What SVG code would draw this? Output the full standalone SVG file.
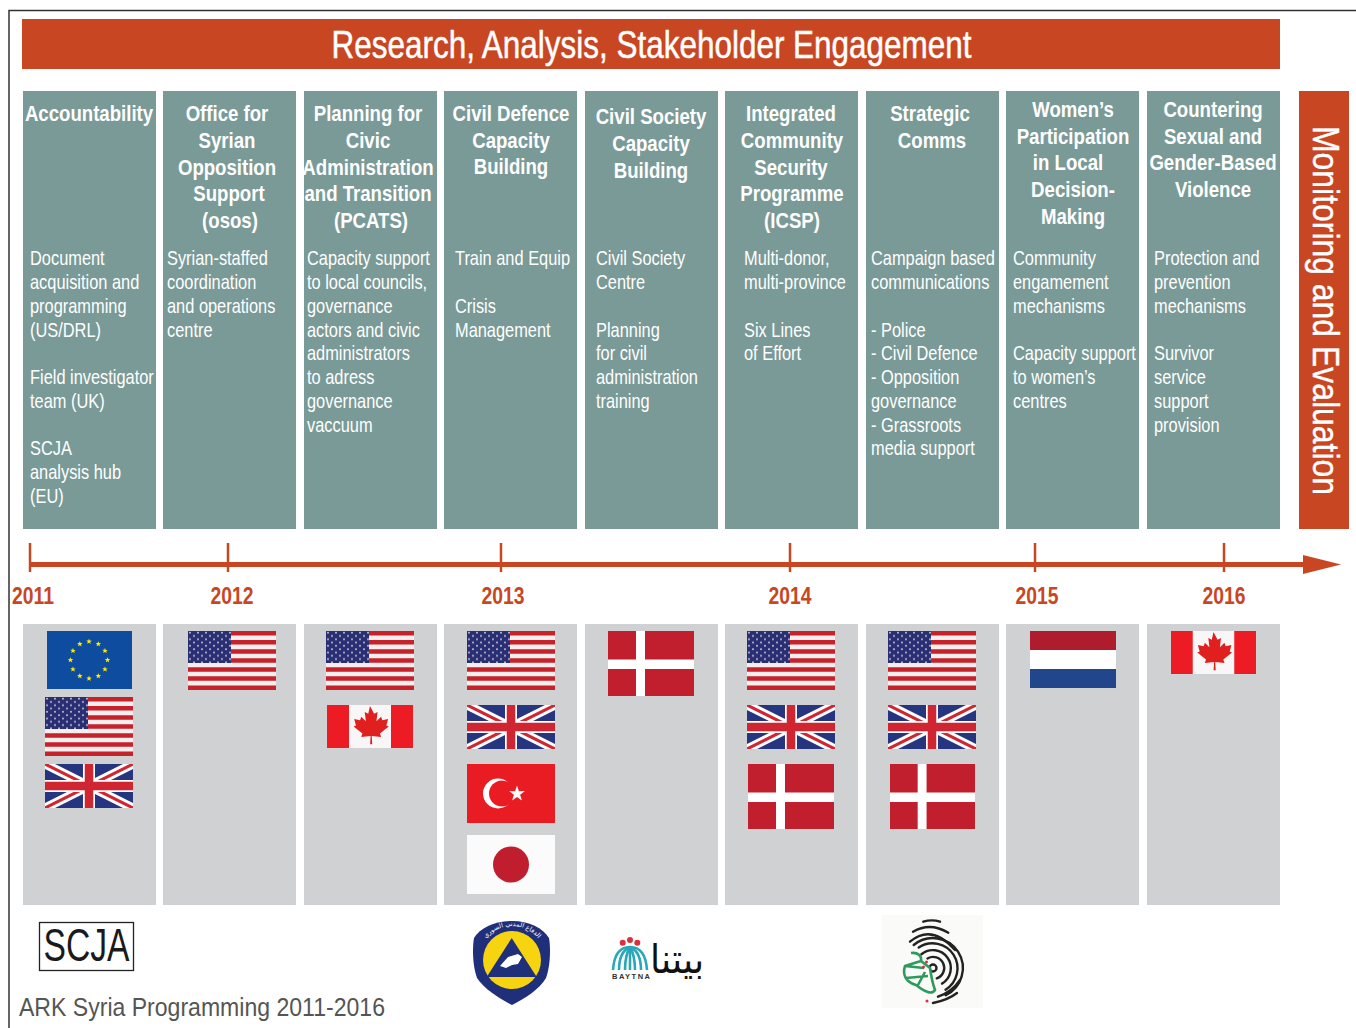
<svg xmlns="http://www.w3.org/2000/svg" xmlns:xlink="http://www.w3.org/1999/xlink" width="1356" height="1028" viewBox="0 0 1356 1028">
<style>
text{font-family:"Liberation Sans",Arial,sans-serif}
.panel{fill:#7a9a97}
.grey{fill:#d0d1d3}
.h{font-size:23px;font-weight:700;fill:#fff;text-anchor:middle}
.b{font-size:20px;fill:#fff}
.y{font-size:23px;font-weight:700;fill:#c84622;text-anchor:middle}
.tick{stroke:#c84622;stroke-width:2.5}
</style>
<defs>
<filter id="soft" x="-5%" y="-5%" width="110%" height="110%"><feGaussianBlur stdDeviation=".4"/></filter>
<pattern id="stars" width="8" height="6.6" patternUnits="userSpaceOnUse"><circle cx="2" cy="1.6" r=".9" fill="#d8d8e8"/><circle cx="6" cy="4.9" r=".9" fill="#d8d8e8"/></pattern>
<symbol id="us" viewBox="0 0 88 59" preserveAspectRatio="none"><g filter="url(#soft)"><rect x="-2" y="-2" width="92" height="63" fill="#f4eeee"/><path d="M-2 2.300H90M-2 11.300H90M-2 20.400H90M-2 29.500H90M-2 38.600H90M-2 47.600H90M-2 56.700H90" stroke="#c5202c" stroke-width="4.500"/><rect x="-2" y="-2" width="45" height="34" fill="#2a2f73"/><rect x="-2" y="-2" width="45" height="34" fill="url(#stars)"/></g></symbol>
<symbol id="uk" viewBox="0 0 88 44" preserveAspectRatio="none"><g filter="url(#soft)"><rect x="-2" y="-2" width="92" height="48" fill="#27357f"/><path d="M-4 -2L92 46M92 -2L-4 46" stroke="#fff" stroke-width="9"/><path d="M-4 -2L92 46M92 -2L-4 46" stroke="#cf2530" stroke-width="3"/><path d="M44 -2V46M-2 22H90" stroke="#fff" stroke-width="12"/><path d="M44 -2V46M-2 22H90" stroke="#cf2530" stroke-width="8.500"/></g></symbol>
<symbol id="ca" viewBox="0 0 86 43" preserveAspectRatio="none"><rect width="86" height="43" fill="#ed1c24"/><rect x="22" width="42" height="43" fill="#f8f6f7"/><path transform="translate(43 21) scale(1.170) translate(-43 -21)" d="M43 4l3.500 6.500 3-1.500-1 8 4-4 1 3 5-1-1.500 5.500 2 1-7.500 6 1 3-8-1 .4 7h-1.800l.4-7-8 1 1-3-7.500-6 2-1-1.500-5.500 5 1 1-3 4 4-1-8 3 1.500z" fill="#e0201f"/></symbol>
<symbol id="dk" viewBox="0 0 86 65" preserveAspectRatio="none"><rect width="86" height="65" fill="#c11f2e"/><path d="M28 0h9v65h-9zM0 28.500h86v9.500H0z" fill="#fff"/></symbol>
<path id="st" d="M0-2.800l.8 1.900 2 .1-1.600 1.300.6 2L0 1.200-1.800 2.300l.6-2-1.600-1.300 2-.1z" fill="#ffe600"/>
</defs>

<g id="frame"><path d="M9 1028V10.500H1356" fill="none" stroke="#333" stroke-width="1.500"/></g>

<g id="banner"><rect x="22" y="19" width="1258" height="50" fill="#c84622"/><text x="651.500" y="58" font-size="38" fill="#fff" stroke="#fff" stroke-width=".5" text-anchor="middle" textLength="640" lengthAdjust="spacingAndGlyphs">Research, Analysis, Stakeholder Engagement</text></g>

<g id="side-bar"><rect x="1299" y="91" width="50" height="438" fill="#c84622"/><text transform="translate(1312.500 126) rotate(90)" font-size="37" fill="#fff" stroke="#fff" stroke-width=".4" textLength="369" lengthAdjust="spacingAndGlyphs">Monitoring and Evaluation</text></g>

<g id="col-accountability"><rect class="panel" x="23" y="91" width="133" height="438"/>
<text class="h" transform="translate(89 121) scale(.81 1)">Accountability</text>
<g transform="translate(30 0) scale(.82 1)"><text class="b" y="265">Document</text><text class="b" y="289">acquisition and</text><text class="b" y="313">programming</text><text class="b" y="337">(US/DRL)</text><text class="b" y="384">Field investigator</text><text class="b" y="408">team (UK)</text><text class="b" y="455">SCJA</text><text class="b" y="479">analysis hub</text><text class="b" y="503">(EU)</text></g></g>

<g id="col-osos"><rect class="panel" x="163" y="91" width="133" height="438"/>
<text class="h" transform="translate(227 121) scale(.81 1)">Office for</text><text class="h" transform="translate(227 148) scale(.81 1)">Syrian</text><text class="h" transform="translate(227 175) scale(.81 1)">Opposition</text><text class="h" transform="translate(229 201) scale(.81 1)">Support</text><text class="h" transform="translate(230 228) scale(.81 1)">(osos)</text>
<g transform="translate(167 0) scale(.82 1)"><text class="b" y="265">Syrian-staffed</text><text class="b" y="289">coordination</text><text class="b" y="313">and operations</text><text class="b" y="337">centre</text></g></g>

<g id="col-pcats"><rect class="panel" x="304" y="91" width="133" height="438"/>
<text class="h" transform="translate(368 121) scale(.81 1)">Planning for</text><text class="h" transform="translate(368 148) scale(.81 1)">Civic</text><text class="h" transform="translate(368 175) scale(.81 1)">Administration</text><text class="h" transform="translate(368 201) scale(.81 1)">and Transition</text><text class="h" transform="translate(371 228) scale(.81 1)">(PCATS)</text>
<g transform="translate(307 0) scale(.82 1)"><text class="b" y="265">Capacity support</text><text class="b" y="289">to local councils,</text><text class="b" y="313">governance</text><text class="b" y="337">actors and civic</text><text class="b" y="360">administrators</text><text class="b" y="384">to adress</text><text class="b" y="408">governance</text><text class="b" y="432">vaccuum</text></g></g>

<g id="col-civil-defence"><rect class="panel" x="444" y="91" width="133" height="438"/>
<text class="h" transform="translate(511 121) scale(.81 1)">Civil Defence</text><text class="h" transform="translate(511 148) scale(.81 1)">Capacity</text><text class="h" transform="translate(511 174) scale(.81 1)">Building</text>
<g transform="translate(455 0) scale(.82 1)"><text class="b" y="265">Train and Equip</text><text class="b" y="313">Crisis</text><text class="b" y="337">Management</text></g></g>

<g id="col-civil-society"><rect class="panel" x="585" y="91" width="133" height="438"/>
<text class="h" transform="translate(651 124) scale(.81 1)">Civil Society</text><text class="h" transform="translate(651 151) scale(.81 1)">Capacity</text><text class="h" transform="translate(651 178) scale(.81 1)">Building</text>
<g transform="translate(596 0) scale(.82 1)"><text class="b" y="265">Civil Society</text><text class="b" y="289">Centre</text><text class="b" y="337">Planning</text><text class="b" y="360">for civil</text><text class="b" y="384">administration</text><text class="b" y="408">training</text></g></g>

<g id="col-icsp"><rect class="panel" x="725" y="91" width="133" height="438"/>
<text class="h" transform="translate(791 121) scale(.81 1)">Integrated</text><text class="h" transform="translate(792 148) scale(.81 1)">Community</text><text class="h" transform="translate(791 175) scale(.81 1)">Security</text><text class="h" transform="translate(792 201) scale(.81 1)">Programme</text><text class="h" transform="translate(792 228) scale(.81 1)">(ICSP)</text>
<g transform="translate(744 0) scale(.82 1)"><text class="b" y="265">Multi-donor,</text><text class="b" y="289">multi-province</text><text class="b" y="337">Six Lines</text><text class="b" y="360">of Effort</text></g></g>

<g id="col-strategic-comms"><rect class="panel" x="866" y="91" width="133" height="438"/>
<text class="h" transform="translate(930 121) scale(.81 1)">Strategic</text><text class="h" transform="translate(932 148) scale(.81 1)">Comms</text>
<g transform="translate(871 0) scale(.82 1)"><text class="b" y="265">Campaign based</text><text class="b" y="289">communications</text><text class="b" y="337">- Police</text><text class="b" y="360">- Civil Defence</text><text class="b" y="384">- Opposition</text><text class="b" y="408">governance</text><text class="b" y="432">- Grassroots</text><text class="b" y="455">media support</text></g></g>

<g id="col-womens-participation"><rect class="panel" x="1006" y="91" width="133" height="438"/>
<text class="h" transform="translate(1073 117) scale(.81 1)">Women’s</text><text class="h" transform="translate(1073 144) scale(.81 1)">Participation</text><text class="h" transform="translate(1068 170) scale(.81 1)">in Local</text><text class="h" transform="translate(1073 197) scale(.81 1)">Decision-</text><text class="h" transform="translate(1073 224) scale(.81 1)">Making</text>
<g transform="translate(1013 0) scale(.82 1)"><text class="b" y="265">Community</text><text class="b" y="289">engamement</text><text class="b" y="313">mechanisms</text><text class="b" y="360">Capacity support</text><text class="b" y="384">to women’s</text><text class="b" y="408">centres</text></g></g>

<g id="col-sgbv"><rect class="panel" x="1147" y="91" width="133" height="438"/>
<text class="h" transform="translate(1213 117) scale(.81 1)">Countering</text><text class="h" transform="translate(1213 144) scale(.81 1)">Sexual and</text><text class="h" transform="translate(1213 170) scale(.81 1)">Gender-Based</text><text class="h" transform="translate(1213 197) scale(.81 1)">Violence</text>
<g transform="translate(1154 0) scale(.82 1)"><text class="b" y="265">Protection and</text><text class="b" y="289">prevention</text><text class="b" y="313">mechanisms</text><text class="b" y="360">Survivor</text><text class="b" y="384">service</text><text class="b" y="408">support</text><text class="b" y="432">provision</text></g></g>

<g id="connectors">
<path d="M30 564.500H1305" stroke="#c84622" stroke-width="5" fill="none"/>
<path d="M1303 555L1341 564.500L1303 574Z" fill="#c84622"/>
<path class="tick" d="M30 543V572M228 543V572M501 543V572M790 543V572M1035 543V572M1224 543V572"/>
</g>

<g id="years">
<text class="y" transform="translate(33 604) scale(.84 1)">2011</text><text class="y" transform="translate(232 604) scale(.84 1)">2012</text><text class="y" transform="translate(503 604) scale(.84 1)">2013</text><text class="y" transform="translate(790 604) scale(.84 1)">2014</text><text class="y" transform="translate(1037 604) scale(.84 1)">2015</text><text class="y" transform="translate(1224 604) scale(.84 1)">2016</text>
</g>

<g id="flags-2011"><rect class="grey" x="23" y="624" width="133" height="281"/>
<rect x="47" y="631" width="85" height="58" fill="#0d4c9f"/>
<use xlink:href="#st" href="#st" x="89" y="641.500"/><use xlink:href="#st" href="#st" x="98.300" y="644"/><use xlink:href="#st" href="#st" x="105" y="650.800"/><use xlink:href="#st" href="#st" x="107.500" y="660"/><use xlink:href="#st" href="#st" x="105" y="669.300"/><use xlink:href="#st" href="#st" x="98.300" y="676"/><use xlink:href="#st" href="#st" x="89" y="678.500"/><use xlink:href="#st" href="#st" x="79.800" y="676"/><use xlink:href="#st" href="#st" x="73" y="669.300"/><use xlink:href="#st" href="#st" x="70.500" y="660"/><use xlink:href="#st" href="#st" x="73" y="650.800"/><use xlink:href="#st" href="#st" x="79.800" y="644"/>
<use xlink:href="#us" href="#us" x="45" y="697" width="88" height="59"/>
<use xlink:href="#uk" href="#uk" x="45" y="764" width="88" height="44"/></g>

<g id="flags-2012"><rect class="grey" x="163" y="624" width="133" height="281"/>
<use xlink:href="#us" href="#us" x="188" y="631" width="88" height="59"/></g>

<g id="flags-pcats"><rect class="grey" x="304" y="624" width="133" height="281"/>
<use xlink:href="#us" href="#us" x="326" y="631" width="88" height="59"/>
<use xlink:href="#ca" href="#ca" x="327" y="705" width="86" height="43"/></g>

<g id="flags-2013"><rect class="grey" x="444" y="624" width="133" height="281"/>
<use xlink:href="#us" href="#us" x="467" y="631" width="88" height="59"/>
<use xlink:href="#uk" href="#uk" x="467" y="705" width="88" height="44"/>
<rect x="467" y="764" width="88" height="59" fill="#e91c24"/><circle cx="498" cy="793.500" r="15" fill="#fff"/><circle cx="502" cy="793.500" r="13" fill="#e91c24"/><path d="M517 785.500l1.900 5.700 6-.1-4.800 3.600 1.800 5.700-4.900-3.400-4.900 3.400 1.800-5.700-4.800-3.600 6 .1z" fill="#fff"/>
<rect x="467" y="835" width="88" height="59" fill="#fbfbfb"/><circle cx="511" cy="864.500" r="18" fill="#c01e2e"/></g>

<g id="flags-civil-society"><rect class="grey" x="585" y="624" width="133" height="281"/>
<use xlink:href="#dk" href="#dk" x="608" y="631" width="86" height="65"/></g>

<g id="flags-2014"><rect class="grey" x="725" y="624" width="133" height="281"/>
<use xlink:href="#us" href="#us" x="747" y="631" width="88" height="59"/>
<use xlink:href="#uk" href="#uk" x="747" y="705" width="88" height="44"/>
<use xlink:href="#dk" href="#dk" x="748" y="764" width="86" height="65"/></g>

<g id="flags-comms"><rect class="grey" x="866" y="624" width="133" height="281"/>
<use xlink:href="#us" href="#us" x="888" y="631" width="88" height="59"/>
<use xlink:href="#uk" href="#uk" x="888" y="705" width="88" height="44"/>
<use xlink:href="#dk" href="#dk" x="890" y="764" width="85" height="65"/></g>

<g id="flags-2015"><rect class="grey" x="1006" y="624" width="133" height="281"/>
<rect x="1030" y="631" width="86" height="19" fill="#ae1c2d"/><rect x="1030" y="650" width="86" height="19" fill="#fff"/><rect x="1030" y="669" width="86" height="19" fill="#21468b"/></g>

<g id="flags-2016"><rect class="grey" x="1147" y="624" width="133" height="281"/>
<use xlink:href="#ca" href="#ca" x="1171" y="631" width="85" height="43"/></g>

<g id="logo-scja"><rect x="39.500" y="922.500" width="94" height="48" fill="#fff" stroke="#222" stroke-width="1.300"/><text x="86.500" y="961" font-size="46" fill="#1a1a1a" text-anchor="middle" textLength="86" lengthAdjust="spacingAndGlyphs">SCJA</text></g>

<g id="logo-civil-defence">
<path d="M512 921C495 921 480 928 474 938C472 950 473 967 477 978C484 989 500 999 512 1005C524 999 540 989 546 978C550 967 551 950 549 938C543 928 529 921 512 921Z" fill="#1f2f7a"/>
<circle cx="512" cy="960" r="29" fill="#f6d40f"/>
<path d="M511.700 938L536.700 977H486.700Z" fill="#1f2f7a"/>
<path d="M500 966l8-9 10-3 4 3-4 7-6 1-6 3z" fill="#fff"/>
<path id="cdarc" d="M481 946A34 34 0 0 1 543 946" fill="none"/>
<text font-size="6.500" fill="#fff" style="font-family:'DejaVu Sans',sans-serif" text-anchor="middle"><textPath xlink:href="#cdarc" href="#cdarc" startOffset="50%">الدفاع المدني السوري</textPath></text>
</g>

<g id="logo-baytna">
<g fill="none" stroke="#2aa7b8" stroke-width="2.600"><path d="M630 947C620 947 614 955 613 970"/><path d="M630 947C623 950 619 958 619 970"/><path d="M630 947C627 952 625 960 625 970"/><path d="M630 947V970"/><path d="M630 947C633 952 635 960 635 970"/><path d="M630 947C637 950 641 958 641 970"/><path d="M630 947C640 947 646 955 647 970"/></g>
<circle cx="622.700" cy="942.700" r="3" fill="#d9323c"/><circle cx="630" cy="940" r="3" fill="#d9323c"/><circle cx="637.300" cy="942.700" r="3" fill="#d9323c"/>
<text x="612" y="979" font-size="7.500" font-weight="700" fill="#333" textLength="38" lengthAdjust="spacing">BAYTNA</text>
<text x="650" y="973" font-size="40" fill="#111" style="font-family:'DejaVu Sans',sans-serif" textLength="54" lengthAdjust="spacingAndGlyphs">بيتنا</text>
</g>

<g id="logo-fingerprint">
<rect x="882" y="915" width="101" height="93" fill="#fafbf9"/>
<g fill="none" stroke="#222" stroke-width="2.400" stroke-linecap="round">
<circle cx="933" cy="968" r="3.500"/>
<path d="M927.500 958.500A11 11 0 1 1 936.800 978.300"/>
<path d="M921.400 954.200A18 18 0 1 1 942 983.600"/>
<path d="M918.700 947.500A25 25 0 1 1 945.500 989.700"/>
<path d="M913.700 945A30 30 0 1 1 945.700 995.200"/>
<path d="M910 941.700Q931.700 923.300 955 950"/>
<path d="M913 931.700Q930 921.700 948.300 932.700"/>
<path d="M923.300 921.700Q932 919 940 921.700"/>
<path d="M933 1003Q948 1000 957 993"/>
<path d="M938 996.700Q952 992 960 980"/>
</g>
<path d="M911 953C918 952 922 956 921 961L905 966C902 975 906 982 916 985C925 992 932 995 935 990C932 982 931 975 930 968L921 961M905 966L924 968M906 978L928 976M918 985L925 972" fill="#fafbf9" stroke="#2e9a5c" stroke-width="2.600" stroke-linejoin="round"/>
<g fill="#d9323c"><circle cx="926.500" cy="962" r="1.500"/><circle cx="923.500" cy="967" r="1.500"/><circle cx="927" cy="1001" r="1.500"/></g>
</g>

<g id="caption"><text x="19" y="1016" font-size="25" fill="#555" textLength="366" lengthAdjust="spacingAndGlyphs">ARK Syria Programming 2011-2016</text></g>
</svg>
